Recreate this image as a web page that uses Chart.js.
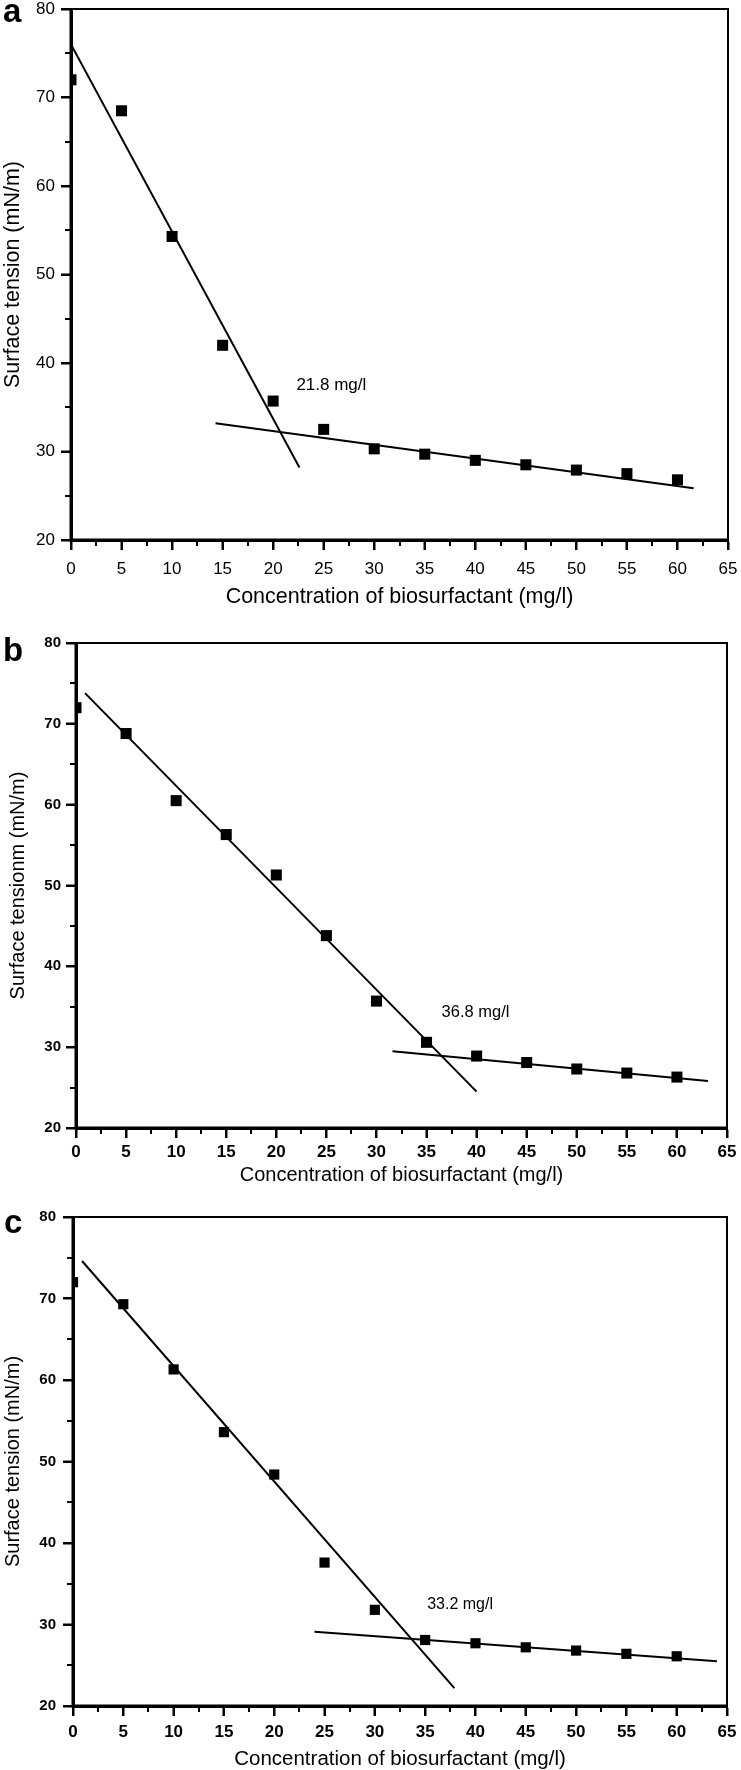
<!DOCTYPE html>
<html><head><meta charset="utf-8">
<script src="https://cdn.jsdelivr.net/npm/chart.js@4/dist/chart.umd.min.js"></script>
<style>
html,body{margin:0;padding:0;background:#fff;overflow:hidden;width:741px;height:1770px;}
.p{position:absolute;left:0;}
canvas{display:block;}
</style></head><body>
<div class="p" style="top:0px"><canvas id="ca" width="741" height="615"></canvas></div>
<div class="p" style="top:615px"><canvas id="cb" width="741" height="575"></canvas></div>
<div class="p" style="top:1190px"><canvas id="cc" width="741" height="585"></canvas></div>
<script>
// ---- data ----
const concentration = [0, 5, 10, 15, 20, 25, 30, 35, 40, 45, 50, 55, 60];
const tensionA = [72.0, 68.5, 54.3, 42.0, 35.7, 32.5, 30.3, 29.7, 29.0, 28.5, 27.9, 27.5, 26.8];
const tensionB = [72.0, 68.8, 60.5, 56.3, 51.3, 43.8, 35.7, 30.6, 28.9, 28.1, 27.3, 26.8, 26.3];
const tensionC = [72.0, 69.3, 61.3, 53.6, 48.4, 37.6, 31.8, 28.1, 27.7, 27.2, 26.8, 26.4, 26.1];

// fitted straight lines (end points)
const fitA1x = [0, 22.6],   fitA1y = [76.0, 28.2];
const fitA2x = [14.3, 61.6], fitA2y = [33.2, 25.85];
const fitB1x = [0.9, 40.0], fitB1y = [73.8, 24.5];
const fitB2x = [31.6, 63.1], fitB2y = [29.5, 25.8];
const fitC1x = [0.9, 37.9], fitC1y = [74.6, 22.2];
const fitC2x = [24.0, 64.0], fitC2y = [29.1, 25.5];

// CMC annotations
const cmcLabels = ['21.8 mg/l', '36.8 mg/l', '33.2 mg/l'];
const cmcX = [22.3, 36.5, 35.2];
const cmcY = [37.5, 34.35, 32.5];

const panelLetters = ['a', 'b', 'c'];
const xTitle = 'Concentration of biosurfactant (mg/l)';
const yTitles = ['Surface tension (mN/m)', 'Surface tensionm (mN/m)', 'Surface tension (mN/m)'];

// axis ranges / ticks
const xMin = 0, xMax = 65, xStep = 5;
const yMin = 20, yMax = 80, yStep = 10;

const FONT = '"Liberation Sans", Arial, Helvetica, sans-serif';

function pts(xs, ys) { return xs.map((v, i) => ({x: v, y: ys[i]})); }

const decoPlugin = {
  id: 'deco',
  afterDraw(chart, args, o) {
    const {ctx, chartArea: a, scales: {x, y}} = chart;
    ctx.save();
    ctx.strokeStyle = '#000';
    ctx.lineCap = 'butt';
    // top & right frame
    ctx.lineWidth = 2;
    ctx.beginPath();
    ctx.moveTo(a.left, a.top); ctx.lineTo(a.right, a.top); ctx.lineTo(a.right, a.bottom + 1);
    ctx.stroke();
    // left & bottom axes
    ctx.lineWidth = 3;
    ctx.beginPath();
    ctx.moveTo(a.left, a.top - 1); ctx.lineTo(a.left, a.bottom); ctx.lineTo(a.right + 1, a.bottom);
    ctx.stroke();
    // major + minor ticks
    ctx.lineWidth = 2;
    ctx.beginPath();
    for (let v = xMin; v <= xMax + 1e-9; v += xStep / 2) {
      const major = Math.abs(v / xStep - Math.round(v / xStep)) < 1e-6;
      const px = Math.round(x.getPixelForValue(v));
      ctx.moveTo(px, a.bottom); ctx.lineTo(px, a.bottom + (major ? o.majorLen : o.minorLen));
    }
    for (let v = yMin; v <= yMax + 1e-9; v += yStep / 2) {
      const major = Math.abs(v / yStep - Math.round(v / yStep)) < 1e-6;
      const py = Math.round(y.getPixelForValue(v));
      ctx.moveTo(a.left, py); ctx.lineTo(a.left - (major ? o.majorLen : o.minorLen), py);
    }
    ctx.stroke();
    // annotation
    ctx.fillStyle = '#000';
    ctx.font = o.noteFont;
    ctx.textAlign = 'left';
    ctx.textBaseline = 'middle';
    ctx.fillText(cmcLabels[o.idx], x.getPixelForValue(cmcX[o.idx]), y.getPixelForValue(cmcY[o.idx]));
    // panel letter
    ctx.font = 'bold 33px ' + FONT;
    ctx.textBaseline = 'alphabetic';
    ctx.fillText(panelLetters[o.idx], o.lx, o.ly);
    ctx.restore();
  }
};

function makeChart(id, p) {
  const datasets = [
    {type: 'scatter', data: pts(concentration, p.tension), pointStyle: 'rect', pointRadius: p.pr,
     pointHoverRadius: p.pr, backgroundColor: '#000', borderColor: '#000', borderWidth: 0, clip: 0, order: 1},
    {type: 'line', data: pts(p.f1x, p.f1y), borderColor: '#000', borderWidth: 2, pointRadius: 0, fill: false, order: 2},
    {type: 'line', data: pts(p.f2x, p.f2y), borderColor: '#000', borderWidth: 2, pointRadius: 0, fill: false, order: 2}
  ];
  return new Chart(document.getElementById(id), {
    type: 'scatter',
    data: {datasets},
    options: {
      responsive: false, animation: false, devicePixelRatio: 1,
      layout: {padding: {left: 0, top: p.padTop, right: p.padRight, bottom: 0}},
      plugins: {legend: {display: false}, tooltip: {enabled: false},
        deco: {idx: p.idx, majorLen: 10, minorLen: 6, noteFont: p.noteFont, lx: p.lx, ly: p.ly}},
      scales: {
        x: {
          type: 'linear', position: 'bottom', min: xMin, max: xMax,
          afterFit: s => { s.height = p.xH; s.paddingLeft = 0; s.paddingRight = 0; },
          ticks: {stepSize: xStep, color: '#000', padding: p.xTickPad, maxRotation: 0, autoSkip: false,
                  font: {family: FONT, size: p.xTickSize, weight: p.tickWeight}},
          grid: {display: true, drawOnChartArea: false, drawTicks: true, tickLength: 10, tickWidth: 2, tickColor: '#000', color: '#000'},
          border: {display: true, color: '#000', width: 3},
          title: {display: true, text: xTitle, color: '#000', padding: {top: 0, bottom: p.xTitlePad},
                  font: {family: FONT, size: p.titleSize, weight: 'normal'}}
        },
        y: {
          type: 'linear', position: 'left', min: yMin, max: yMax,
          afterFit: s => { s.width = p.yW; s.paddingTop = 0; s.paddingBottom = 0; },
          ticks: {stepSize: yStep, color: '#000', padding: p.yTickPad,
                  font: {family: FONT, size: p.yTickSize, weight: p.tickWeight}},
          grid: {display: true, drawOnChartArea: false, drawTicks: true, tickLength: 10, tickWidth: 2, tickColor: '#000', color: '#000'},
          border: {display: true, color: '#000', width: 3},
          title: {display: true, text: yTitles[p.idx], color: '#000', padding: {top: p.yTitlePad, bottom: 0},
                  font: {family: FONT, size: p.yTitleSize, weight: 'normal'}}
        }
      }
    },
    plugins: [decoPlugin]
  });
}

makeChart('ca', {idx: 0, tension: tensionA, f1x: fitA1x, f1y: fitA1y, f2x: fitA2x, f2y: fitA2y,
  pr: 7.8, padTop: 9, padRight: 13, xH: 75, yW: 71, xTickPad: 9.3, yTickPad: 6,
  xTickSize: 17, yTickSize: 17, tickWeight: 'normal', titleSize: 21.5, yTitleSize: 21.5,
  xTitlePad: 5, yTitlePad: 0, noteFont: '17px ' + FONT, lx: 3, ly: 22});

makeChart('cb', {idx: 1, tension: tensionB, f1x: fitB1x, f1y: fitB1y, f2x: fitB2x, f2y: fitB2y,
  pr: 7.8, padTop: 28, padRight: 14, xH: 62, yW: 76, xTickPad: 4.3, yTickPad: 5,
  xTickSize: 17, yTickSize: 15, tickWeight: 'bold', titleSize: 20, yTitleSize: 20,
  xTitlePad: 3, yTitlePad: 6, noteFont: '16.5px ' + FONT, lx: 3, ly: 45.5});

makeChart('cc', {idx: 2, tension: tensionC, f1x: fitC1x, f1y: fitC1y, f2x: fitC2x, f2y: fitC2y,
  pr: 7.2, padTop: 27, padRight: 14, xH: 69, yW: 73, xTickPad: 5.8, yTickPad: 7,
  xTickSize: 17, yTickSize: 15, tickWeight: 'bold', titleSize: 20.5, yTitleSize: 20,
  xTitlePad: 3, yTitlePad: 1.5, noteFont: '16px ' + FONT, lx: 4, ly: 43});
</script>
</body></html>
